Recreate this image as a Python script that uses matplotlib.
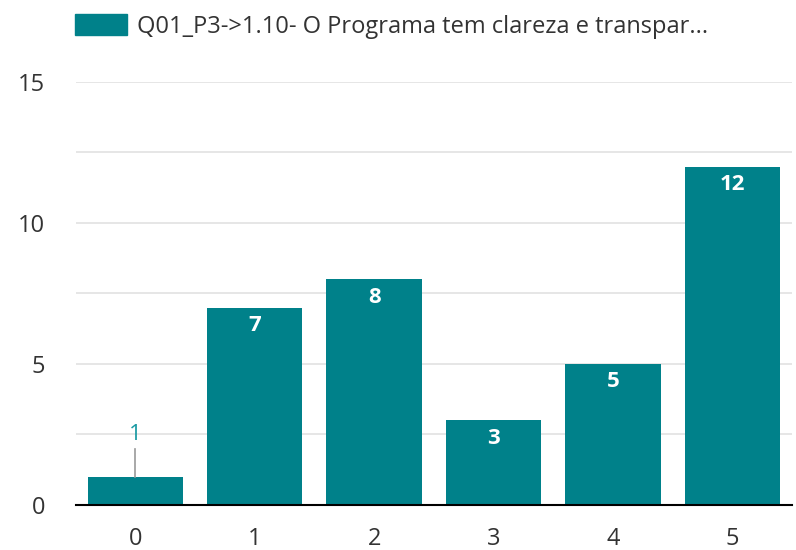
import matplotlib.pyplot as plt
from matplotlib.patches import Patch

# Data
categories = ['0', '1', '2', '3', '4', '5']
counts = [1, 7, 8, 3, 5, 12]
series_name = 'Q01_P3->1.10- O Programa tem clareza e transpar...'

teal = '#00818A'
plt.rcParams['font.family'] = ['Open Sans', 'DejaVu Sans']

fig = plt.figure(figsize=(7.96, 5.5), dpi=100)
ax = fig.add_axes([0.095, 0.082, 0.9, 0.769])

x = list(range(len(categories)))
bars = ax.bar(x, counts, width=0.8, color=teal, zorder=3)

ax.set_xlim(-0.5, len(categories) - 0.5)
ax.set_ylim(0, 15)
ax.set_yticks([0, 5, 10, 15])
ax.set_yticks([2.5, 7.5, 12.5], minor=True)
ax.grid(axis='y', which='both', color='#e2e2e2', linewidth=1.2, zorder=0)
ax.set_xticks(x)
ax.set_xticklabels(categories)
ax.tick_params(axis='both', which='both', length=0, labelsize=17, colors='#333333')
ax.tick_params(axis='x', pad=16)
ax.tick_params(axis='y', pad=22)

for s in ['top', 'right', 'left']:
    ax.spines[s].set_visible(False)
ax.spines['bottom'].set_color('black')
ax.spines['bottom'].set_linewidth(1.5)
ax.spines['bottom'].set_zorder(4)

# value labels
for xi, v in zip(x, counts):
    if v >= 2:
        ax.text(xi, v - 0.64, str(v), ha='center', va='center', color='white',
                fontsize=16, fontweight='bold', zorder=5)
    else:
        ax.plot([xi, xi], [v, v + 1.0], color='#999999', linewidth=1.2, zorder=4)
        ax.text(xi, v + 1.5, str(v), ha='center', va='center', color='#1a9aa3',
                fontsize=16, zorder=5)

handle = Patch(facecolor=teal, edgecolor=teal)
fig.legend([handle], [series_name], loc='center left',
           bbox_to_anchor=(0.094, 1 - 26.5 / 550), borderpad=0, borderaxespad=0,
           frameon=False, fontsize=17, handlelength=2.2, handleheight=1.0,
           handletextpad=0.42, labelcolor='#333333')

fig.savefig('out.png', dpi=100)
